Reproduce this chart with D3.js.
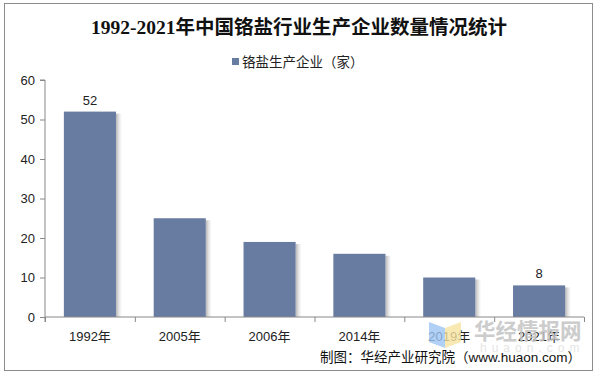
<html>
<meta charset="utf-8">
<style>
body { margin: 0; background: #fff; }
text { font-family: "Liberation Sans", Arial, "Noto Sans CJK SC", sans-serif; }
.title { font: bold 19.5px "Liberation Serif", "Noto Sans CJK SC", serif; fill: #111; }
.tick text { font-size: 13px; fill: #222; }
.tick line, .domain { stroke: #888; }
</style>
<body>
<script src="https://cdn.jsdelivr.net/npm/d3@7"></script>
<script>

var years = ['1992年', '2005年', '2006年', '2014年', '2019年', '2021年'];
var counts = [52, 25, 19, 16, 10, 8];
var labelled = [0, 5];   // only first and last bars carry a label
var yTicks = [0, 10, 20, 30, 40, 50, 60];

var width = 599,
    height = 379,
    barColor = '#687ba1';

var svg = d3.select('body').append('svg')
    .attr('width', width)
    .attr('height', height);

var defs = svg.append('defs');
var grad = defs.append('linearGradient').attr('id', 'shade');
grad.append('stop').attr('offset', '0%').attr('stop-color', '#777').attr('stop-opacity', 0.55);
grad.append('stop').attr('offset', '100%').attr('stop-color', '#bbb').attr('stop-opacity', 0);

// outer frame
svg.append('rect')
    .attr('x', 4.5).attr('y', 3.5)
    .attr('width', 588).attr('height', 367)
    .attr('fill', 'none').attr('stroke', '#8c8c8c');

svg.append('text')
    .attr('class', 'title')
    .attr('x', 299).attr('y', 34)
    .attr('text-anchor', 'middle')
    .text('1992-2021年中国铬盐行业生产企业数量情况统计');

// legend
svg.append('rect')
    .attr('x', 232).attr('y', 58)
    .attr('width', 7).attr('height', 7)
    .attr('fill', barColor);
svg.append('text')
    .attr('x', 242).attr('y', 67)
    .style('font-size', '13.5px').style('fill', '#222')
    .text('铬盐生产企业（家）');

var x = d3.scaleBand().domain(years).range([45, 584]).padding(0);
var y = d3.scaleLinear().domain([0, 60]).range([317, 80]);

var inset = x.bandwidth() * 0.21,
    bw = x.bandwidth() - 2 * inset;

var g = svg.append('g');

g.selectAll('rect.shadow')
    .data(counts)
  .enter().append('rect')
    .attr('class', 'shadow')
    .attr('x', function(d, i) { return x(years[i]) + inset + bw; })
    .attr('y', function(d) { return y(d) + 2; })
    .attr('width', 6)
    .attr('height', function(d) { return y(0) - y(d) - 2; })
    .attr('fill', 'url(#shade)');

g.selectAll('rect.bar')
    .data(counts)
  .enter().append('rect')
    .attr('class', 'bar')
    .attr('x', function(d, i) { return x(years[i]) + inset; })
    .attr('y', function(d) { return y(d); })
    .attr('width', bw)
    .attr('height', function(d) { return y(0) - y(d); })
    .attr('fill', barColor);

g.selectAll('text.lbl')
    .data(labelled)
  .enter().append('text')
    .attr('class', 'lbl')
    .attr('x', function(i) { return x(years[i]) + x.bandwidth() / 2; })
    .attr('y', function(i) { return y(counts[i]) - 7; })
    .attr('text-anchor', 'middle')
    .style('font-size', '13px').style('fill', '#222')
    .text(function(i) { return counts[i]; });

// y axis
svg.append('g')
    .attr('transform', 'translate(45,0)')
    .call(d3.axisLeft(y).tickValues(yTicks).tickSize(5).tickPadding(5))
    .call(function(a) { a.select('.domain').attr('d', 'M-5,' + y(60) + 'H0V' + (y(0) + 5)); });

// x axis with ticks at category boundaries
var xa = svg.append('g').attr('transform', 'translate(0,' + y(0) + ')');
xa.append('line').attr('x1', 45).attr('x2', 584).attr('stroke', '#888');
xa.selectAll('line.bt')
    .data(years.concat(['end']))
  .enter().append('line')
    .attr('class', 'bt')
    .attr('x1', function(d, i) { return 45 + i * x.step() + 0.5; })
    .attr('x2', function(d, i) { return 45 + i * x.step() + 0.5; })
    .attr('y1', 0).attr('y2', 5)
    .attr('stroke', '#888');
xa.selectAll('text')
    .data(years)
  .enter().append('text')
    .attr('x', function(d) { return x(d) + x.bandwidth() / 2; })
    .attr('y', 24)
    .attr('text-anchor', 'middle')
    .style('font-size', '13px').style('fill', '#222')
    .text(function(d) { return d; });

// watermark
var wm = svg.append('g');
wm.append('path').attr('d', 'M429,322 L445,328 L445,348 L429,342 Z').attr('fill', '#9cc4f2').attr('opacity', 0.8);
wm.append('path').attr('d', 'M445,328 L461,322 L461,342 L445,348 Z').attr('fill', '#f6e3a0').attr('opacity', 0.8);
wm.append('text')
    .attr('x', 474).attr('y', 339)
    .style('font', 'bold 21.5px "Noto Sans CJK SC", sans-serif')
    .style('fill', '#c4c4c4').style('opacity', 0.85)
    .text('华经情报网');
wm.append('text')
    .attr('x', 480).attr('y', 352)
    .style('font-size', '12px').style('letter-spacing', '5px')
    .style('fill', '#e6e6e6')
    .text('huaon.com');

svg.append('text')
    .attr('x', 581).attr('y', 362)
    .attr('text-anchor', 'end')
    .style('font-size', '13.5px').style('fill', '#111')
    .text('制图：华经产业研究院（www.huaon.com）');

</script>
</body>
</html>
